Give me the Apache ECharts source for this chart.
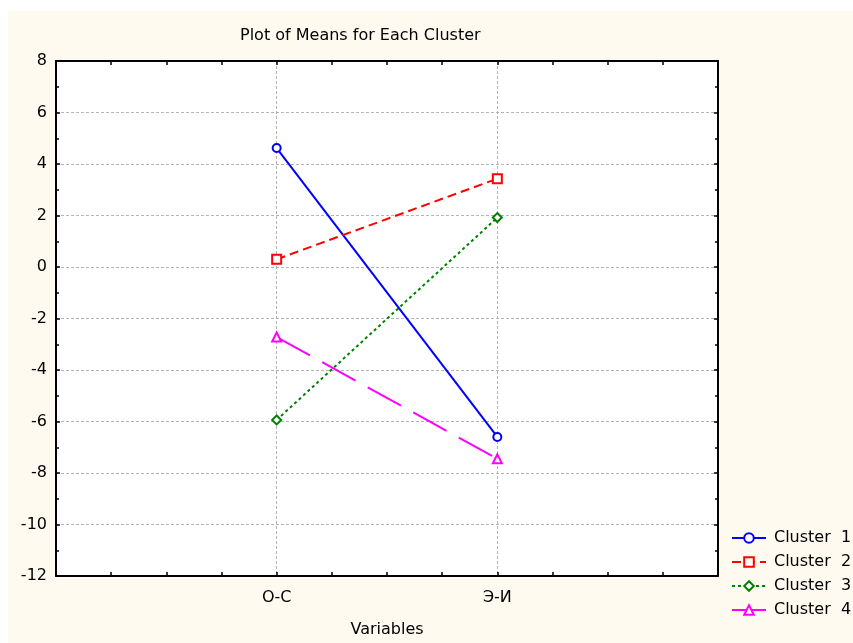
<!DOCTYPE html>
<html>
<head>
<meta charset="utf-8">
<script src="https://cdn.jsdelivr.net/npm/echarts@6/dist/echarts.min.js"></script>
<style>
  html, body { margin: 0; padding: 0; background: #fff; }
  #chart { width: 853px; height: 643px; }
</style>
</head>
<body>
<div id="chart"></div>
<script>
// категории по оси X (позиции 1 и 2 на шкале 0..3)
const categories = ['О-С', 'Э-И'];
const clusterNames = ['Cluster  1', 'Cluster  2', 'Cluster  3', 'Cluster  4'];
const cluster1 = [4.62, -6.6];
const cluster2 = [0.3, 3.43];
const cluster3 = [-5.94, 1.92];
const cluster4 = [-2.72, -7.45];
const yTicks = [-12, -10, -8, -6, -4, -2, 0, 2, 4, 6, 8];

const font = '"DejaVu Sans", Arial, sans-serif';

function toPoints(vals) {
    return vals.map((v, i) => [i + 1, v]);
}

const chart = echarts.init(document.getElementById('chart'));

const gridLine = { show: true, lineStyle: { color: '#b4b4b4', type: [3, 2], width: 1 } };
const blackLine = { show: true, onZero: false, lineStyle: { color: '#000', width: 2 } };
const tick = { show: true, inside: true, length: 4, lineStyle: { color: '#000', width: 1.5 } };

const option = {
    animation: false,
    textStyle: { fontFamily: font },
    graphic: [{
        type: 'rect', z: -10, silent: true,
        shape: { x: 8, y: 11, width: 845, height: 632 },
        style: { fill: '#fffaf0' }
    }],
    title: {
        text: 'Plot of Means for Each Cluster',
        left: 240, top: 28, padding: 0,
        textStyle: { fontSize: 16, fontWeight: 'normal', color: '#000', fontFamily: font }
    },
    grid: { left: 56, right: 135, top: 61, bottom: 65, show: true, backgroundColor: '#fff', borderWidth: 0 },
    legend: {
        orient: 'vertical',
        left: 731, top: 530, padding: 0,
        itemWidth: 34, itemHeight: 12, itemGap: 8,
        textStyle: { fontSize: 16, lineHeight: 16, color: '#000', fontFamily: font, padding: [0, 0, 0, 3] },
        data: clusterNames
    },
    xAxis: [{
        type: 'value', min: 0, max: 3, interval: 1,
        position: 'bottom',
        name: 'Variables', nameLocation: 'middle', nameGap: 46,
        nameTextStyle: { fontSize: 16, color: '#000' },
        axisLine: blackLine,
        axisTick: tick,
        minorTick: { show: true, splitNumber: 4, length: 4, lineStyle: { color: '#000', width: 1.5 } },
        axisLabel: {
            fontSize: 16, color: '#000', margin: 14,
            formatter: v => categories[v - 1] || ''
        },
        splitLine: gridLine
    }, {
        type: 'value', min: 0, max: 3, interval: 1,
        position: 'top',
        axisLine: blackLine,
        axisTick: tick,
        minorTick: { show: true, splitNumber: 4, length: 4, lineStyle: { color: '#000', width: 1.5 } },
        axisLabel: { show: false },
        splitLine: { show: false }
    }],
    yAxis: [{
        type: 'value', min: yTicks[0], max: yTicks[yTicks.length - 1], interval: 2,
        position: 'left',
        axisLine: blackLine,
        axisTick: tick,
        minorTick: { show: true, splitNumber: 2, length: 3, lineStyle: { color: '#000', width: 1.5 } },
        axisLabel: { fontSize: 16, color: '#000', margin: 9 },
        splitLine: gridLine
    }, {
        type: 'value', min: yTicks[0], max: yTicks[yTicks.length - 1], interval: 2,
        position: 'right',
        axisLine: blackLine,
        axisTick: tick,
        minorTick: { show: true, splitNumber: 2, length: 3, lineStyle: { color: '#000', width: 1.5 } },
        axisLabel: { show: false },
        splitLine: { show: false }
    }],
    series: [{
        name: clusterNames[0], type: 'line', data: toPoints(cluster1),
        symbol: 'emptyCircle', symbolSize: 8,
        itemStyle: { color: '#0000ff', borderWidth: 1 },
        lineStyle: { color: '#0000ff', width: 2, type: 'solid' }
    }, {
        name: clusterNames[1], type: 'line', data: toPoints(cluster2),
        symbol: 'emptyRect', symbolSize: 9,
        itemStyle: { color: '#ff0000', borderWidth: 1 },
        lineStyle: { color: '#ff0000', width: 2, type: [9, 5] }
    }, {
        name: clusterNames[2], type: 'line', data: toPoints(cluster3),
        symbol: 'emptyDiamond', symbolSize: 9,
        itemStyle: { color: '#008000', borderWidth: 1 },
        lineStyle: { color: '#008000', width: 2, type: [3, 3] }
    }, {
        name: clusterNames[3], type: 'line', data: toPoints(cluster4),
        symbol: 'emptyTriangle', symbolSize: 9,
        itemStyle: { color: '#ff00ff', borderWidth: 1.2 },
        lineStyle: { color: '#ff00ff', width: 2, type: [38, 14] }
    }]
};

chart.setOption(option);
</script>
</body>
</html>
